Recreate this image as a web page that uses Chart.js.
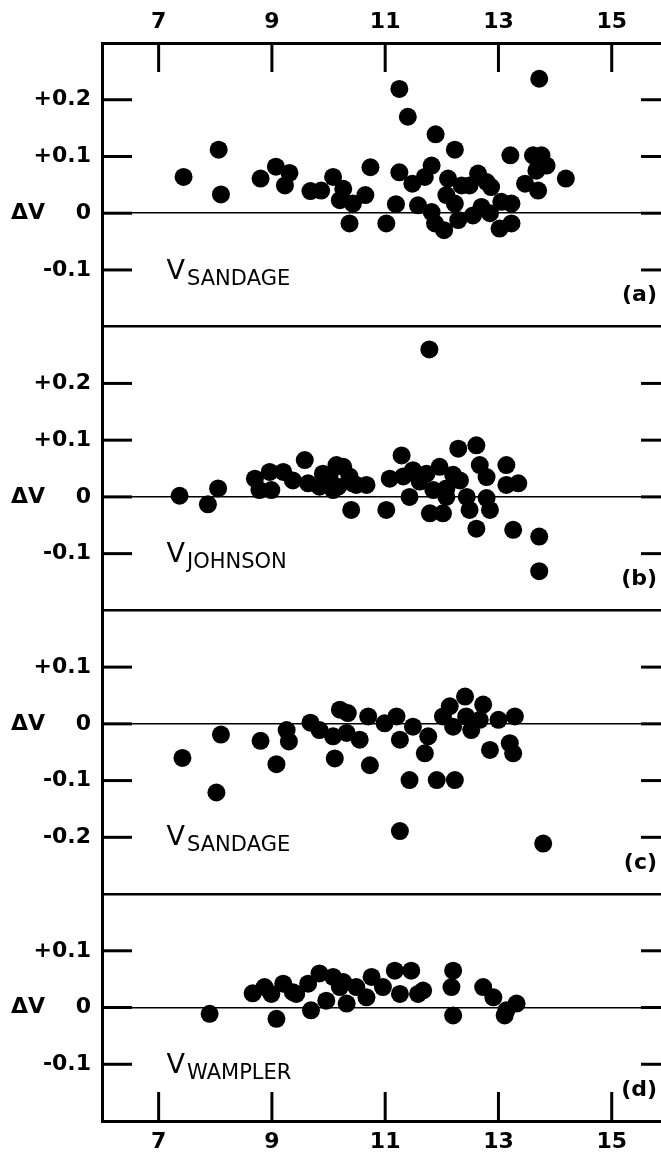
<!DOCTYPE html>
<html>
<head>
<meta charset="utf-8">
<script src="https://cdn.jsdelivr.net/npm/chart.js@4.4.1/dist/chart.umd.min.js"></script>
<style>
  html, body { margin: 0; padding: 0; background: #fff; }
  #wrap { width: 661px; height: 1156px; }
</style>
</head>
<body>
<div id="wrap"><canvas id="chart" width="661" height="1156"></canvas></div>
<script>
/* V magnitude ticks, shared by all panels */
var magTicks = [7, 9, 11, 13, 15];

/* labelled delta-V ticks of each panel */
var ticksA = [0.2, 0.1, 0, -0.1];
var ticksB = [0.2, 0.1, 0, -0.1];
var ticksC = [0.1, 0, -0.1, -0.2];
var ticksD = [0.1, 0, -0.1];

/* (a) V - V Sandage */
var sandageA = [
	[7.44, 0.064], [8.06, 0.112], [8.10, 0.033], [8.80, 0.061], [9.07, 0.082], [9.31, 0.071],
	[9.23, 0.049], [9.68, 0.039], [9.87, 0.040], [10.08, 0.064], [10.26, 0.043], [10.20, 0.023],
	[10.43, 0.017], [10.65, 0.032], [10.37, -0.018], [10.74, 0.081], [11.02, -0.018], [11.25, 0.219],
	[11.40, 0.170], [11.89, 0.139], [12.23, 0.112], [13.72, 0.237], [11.25, 0.072], [11.19, 0.016],
	[11.82, 0.084], [11.48, 0.052], [11.70, 0.064], [12.11, 0.061], [12.35, 0.049], [12.49, 0.049],
	[12.64, 0.070], [12.79, 0.055], [12.87, 0.046], [11.58, 0.014], [11.82, 0.002], [11.88, -0.018],
	[12.04, -0.030], [12.08, 0.032], [12.23, 0.017], [12.29, -0.012], [12.55, -0.004], [12.70, 0.011],
	[12.85, 0.000], [13.05, 0.020], [13.23, 0.017], [13.02, -0.027], [13.23, -0.018], [13.21, 0.102],
	[13.61, 0.102], [13.76, 0.102], [13.85, 0.084], [13.67, 0.075], [13.47, 0.052], [13.70, 0.040],
	[14.19, 0.061]
];

/* (b) V - V Johnson */
var johnsonB = [
	[7.37, 0.002], [7.87, -0.013], [8.05, 0.015], [8.70, 0.032], [8.78, 0.012], [8.99, 0.012],
	[8.96, 0.044], [9.20, 0.044], [9.37, 0.029], [9.58, 0.065], [9.64, 0.024], [9.84, 0.018],
	[9.90, 0.041], [10.02, 0.039], [10.14, 0.056], [10.26, 0.053], [10.08, 0.012], [10.37, 0.036],
	[10.17, 0.018], [10.43, 0.024], [10.49, 0.021], [10.67, 0.021], [10.40, -0.023], [11.02, -0.023],
	[11.08, 0.032], [11.29, 0.073], [11.32, 0.036], [11.49, 0.047], [11.43, 0.000], [11.61, 0.027],
	[11.73, 0.041], [11.96, 0.053], [11.85, 0.012], [11.79, -0.029], [12.08, 0.000], [12.02, -0.029],
	[12.29, 0.085], [12.61, 0.091], [12.67, 0.056], [12.79, 0.035], [12.32, 0.029], [12.44, 0.000],
	[12.49, -0.023], [12.85, -0.023], [12.79, -0.002], [13.14, 0.056], [13.35, 0.024], [13.14, 0.021],
	[12.61, -0.056], [13.26, -0.058], [13.72, -0.070], [13.72, -0.131], [11.78, 0.260], [12.20, 0.039],
	[12.08, 0.015]
];

/* (c) V - V Sandage */
var sandageC = [
	[7.42, -0.060], [8.02, -0.121], [8.10, -0.019], [8.80, -0.030], [9.08, -0.071], [9.26, -0.011],
	[9.30, -0.031], [9.68, 0.002], [9.84, -0.011], [10.08, -0.022], [10.20, 0.025], [10.34, 0.019],
	[10.11, -0.061], [10.32, -0.016], [10.55, -0.028], [10.70, 0.013], [10.73, -0.073], [10.99, 0.001],
	[11.20, 0.013], [11.26, -0.028], [11.26, -0.189], [11.43, -0.099], [11.49, -0.005], [11.70, -0.052],
	[11.76, -0.022], [11.91, -0.099], [12.23, -0.099], [12.02, 0.013], [12.14, 0.031], [12.20, -0.005],
	[12.41, 0.048], [12.43, 0.013], [12.52, -0.011], [12.73, 0.034], [12.67, 0.007], [12.85, -0.046],
	[13.00, 0.007], [13.26, -0.052], [13.29, 0.013], [13.20, -0.034], [13.79, -0.211]
];

/* (d) V - V Wampler */
var wamplerD = [
	[7.90, -0.011], [8.66, 0.025], [8.87, 0.036], [9.08, -0.020], [9.20, 0.042], [9.43, 0.024],
	[9.64, 0.042], [9.84, 0.060], [9.69, -0.005], [9.96, 0.012], [10.08, 0.054], [10.20, 0.036],
	[10.32, 0.007], [10.49, 0.036], [10.67, 0.018], [10.76, 0.054], [10.96, 0.036], [11.17, 0.065],
	[11.46, 0.065], [11.26, 0.024], [11.58, 0.024], [11.67, 0.030], [12.20, 0.065], [12.17, 0.036],
	[12.20, -0.014], [12.73, 0.036], [12.91, 0.018], [13.14, -0.005], [13.32, 0.007], [13.11, -0.014],
	[8.99, 0.024], [9.37, 0.027], [10.26, 0.045]
];

/* panel setup, top to bottom */
var panels = [
	{id: 'yA', min: -0.2, max: 0.3, weight: 0.5, ticks: ticksA, data: sandageA, sub: 'SANDAGE', tag: '(a)', labelY: -0.116},
	{id: 'yB', min: -0.2, max: 0.3, weight: 0.5, ticks: ticksB, data: johnsonB, sub: 'JOHNSON', tag: '(b)', labelY: -0.114},
	{id: 'yC', min: -0.3, max: 0.2, weight: 0.5, ticks: ticksC, data: sandageC, sub: 'SANDAGE', tag: '(c)', labelY: -0.214},
	{id: 'yD', min: -0.2, max: 0.2, weight: 0.4, ticks: ticksD, data: wamplerD, sub: 'WAMPLER', tag: '(d)', labelY: -0.115}
];
var labelMag = 7.14;
var fontFamily = 'DejaVu Sans';

Chart.defaults.font.family = fontFamily;
Chart.defaults.color = '#000';

function fmtTick(v){
	if(v === 0){
		return '\u0394V    0';
	}
	return (v > 0 ? '+' : '-') + Math.abs(v).toFixed(1);
}

function strokeLine(ctx, x1, y1, x2, y2){
	ctx.beginPath();
	ctx.moveTo(x1, y1);
	ctx.lineTo(x2, y2);
	ctx.stroke();
}

function magAxis(position, height){
	return {
		type: 'linear', position: position, min: 6, max: 15.87,
		afterBuildTicks: function(s){ s.ticks = magTicks.map(function(v){ return {value: v}; }); },
		afterFit: function(s){
			s.height = height;
			s.paddingLeft = 0;
			s.paddingRight = 0;
		},
		grid: {display: false, drawTicks: false},
		border: {display: true, color: '#000', width: 3},
		ticks: {padding: 8, autoSkip: false, maxRotation: 0, font: {size: 22, weight: 'bold'}}
	};
}

function panelAxis(p){
	return {
		type: 'linear', position: 'left', stack: 'panels', stackWeight: p.weight,
		min: p.min, max: p.max,
		afterBuildTicks: function(s){
			s.ticks = [p.min].concat(p.ticks.slice().reverse(), [p.max]).map(function(v){ return {value: v}; });
		},
		afterFit: function(s){
			s.width = 102;
			s.paddingTop = 0;
			s.paddingBottom = 0;
		},
		grid: {
			drawTicks: false,
			color: function(c){
				if(!c.tick) return 'rgba(0,0,0,0)';
				if(Math.abs(c.tick.value) < 1e-9 || Math.abs(c.tick.value - p.max) < 1e-9) return '#000';
				return 'rgba(0,0,0,0)';
			},
			lineWidth: function(c){
				if(c.tick && Math.abs(c.tick.value - p.max) < 1e-9) return 2.5;
				return 1.5;
			}
		},
		border: {display: true, color: '#000', width: 3},
		ticks: {
			padding: 11, autoSkip: false, font: {size: 22, weight: 'bold'},
			callback: function(v){
				for(var i = 0; i < p.ticks.length; i++){
					if(Math.abs(p.ticks[i] - v) < 1e-9) return fmtTick(p.ticks[i]);
				}
				return '';
			}
		}
	};
}

/* inward ticks, panel names and letters */
var frameMarks = {
	id: 'frameMarks',
	afterDraw: function(chart){
		var ctx = chart.ctx, area = chart.chartArea, sx = chart.scales.x;
		ctx.save();
		ctx.strokeStyle = '#000';
		ctx.lineWidth = 3;
		panels.forEach(function(p){
			var sc = chart.scales[p.id];
			p.ticks.forEach(function(v){
				var y = sc.getPixelForValue(v);
				strokeLine(ctx, area.left, y, area.left + 30, y);
				strokeLine(ctx, area.right - 20, y, area.right, y);
			});
		});
		magTicks.forEach(function(m){
			var x = sx.getPixelForValue(m);
			strokeLine(ctx, x, area.top, x, area.top + 29);
			strokeLine(ctx, x, area.bottom - 29, x, area.bottom);
		});
		ctx.fillStyle = '#000';
		panels.forEach(function(p){
			var sc = chart.scales[p.id];
			var x = sx.getPixelForValue(labelMag), y = sc.getPixelForValue(p.labelY), w;
			ctx.textAlign = 'left';
			ctx.textBaseline = 'alphabetic';
			ctx.font = '27px ' + fontFamily;
			ctx.fillText('V', x, y);
			w = ctx.measureText('V').width;
			ctx.font = '21px ' + fontFamily;
			ctx.fillText(p.sub, x + w + 2, y + 6);
			ctx.font = 'bold 22px ' + fontFamily;
			ctx.textAlign = 'right';
			ctx.textBaseline = 'middle';
			ctx.fillText(p.tag, area.right - 4, sc.bottom - 31);
		});
		ctx.restore();
	}
};

var scales = {x: magAxis('bottom', 35), x2: magAxis('top', 43)};
/* left boxes are stacked last-first, so add the bottom panel first */
panels.slice().reverse().forEach(function(p){
	scales[p.id] = panelAxis(p);
});

var datasets = panels.map(function(p){
	return {
		label: p.tag,
		xAxisID: 'x',
		yAxisID: p.id,
		data: p.data.map(function(d){ return {x: d[0], y: d[1]}; }),
		pointRadius: 9,
		pointHoverRadius: 9,
		pointBackgroundColor: '#000',
		pointBorderWidth: 0,
		showLine: false
	};
});

new Chart(document.getElementById('chart'), {
	type: 'scatter',
	data: {datasets: datasets},
	options: {
		responsive: false,
		animation: false,
		devicePixelRatio: 1,
		layout: {padding: 0, autoPadding: false},
		plugins: {legend: {display: false}, tooltip: {enabled: false}},
		scales: scales
	},
	plugins: [frameMarks]
});
</script>
</body>
</html>
